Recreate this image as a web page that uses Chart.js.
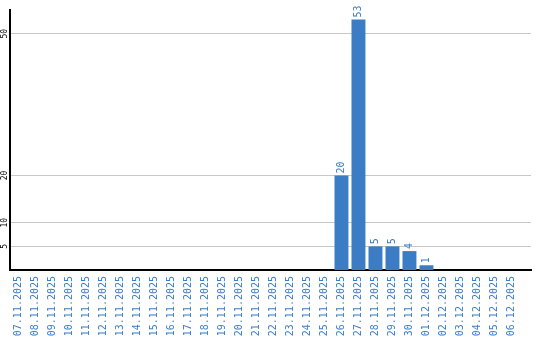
<!DOCTYPE html>
<html>
<head>
<meta charset="utf-8">
<script src="https://cdn.jsdelivr.net/npm/chart.js@4/dist/chart.umd.min.js"></script>
<style>
  body { margin: 0; background: #fff; }
  #wrap { width: 540px; height: 340px; }
</style>
</head>
<body>
<div id="wrap"><canvas id="myChart" width="540" height="340"></canvas></div>
<script>
'use strict';

// days shown on the x axis
const days = ['07.11.2025', '08.11.2025', '09.11.2025', '10.11.2025', '11.11.2025',
  '12.11.2025', '13.11.2025', '14.11.2025', '15.11.2025', '16.11.2025',
  '17.11.2025', '18.11.2025', '19.11.2025', '20.11.2025', '21.11.2025',
  '22.11.2025', '23.11.2025', '24.11.2025', '25.11.2025', '26.11.2025',
  '27.11.2025', '28.11.2025', '29.11.2025', '30.11.2025', '01.12.2025',
  '02.12.2025', '03.12.2025', '04.12.2025', '05.12.2025', '06.12.2025'];

// count per day
const counts = [0, 0, 0, 0, 0, 0, 0, 0, 0, 0,
  0, 0, 0, 0, 0, 0, 0, 0, 0, 20,
  53, 5, 5, 4, 1, 0, 0, 0, 0, 0];

// y axis tick labels
const yTicks = [5, 10, 20, 50];
const yMax = 55;

const blue = '#3b7dc5';

// draws the rotated value above each bar and the rotated y tick labels
const rotatedText = {
  id: 'rotatedText',
  afterDatasetsDraw(chart) {
    const ctx = chart.ctx;
    const meta = chart.getDatasetMeta(0);
    ctx.save();
    ctx.fillStyle = blue;
    ctx.font = '10px "DejaVu Sans Mono"';
    ctx.textAlign = 'left';
    ctx.textBaseline = 'middle';
    meta.data.forEach((bar, i) => {
      if (!counts[i]) return;
      ctx.save();
      ctx.translate(bar.x, bar.y - 2);
      ctx.rotate(-Math.PI / 2);
      ctx.fillText(String(counts[i]), 0, 0);
      ctx.restore();
    });
    // y labels, centred on their grid lines
    const y = chart.scales.y;
    ctx.fillStyle = '#000';
    ctx.font = '8px "DejaVu Sans Mono"';
    ctx.textAlign = 'center';
    yTicks.forEach(v => {
      ctx.save();
      ctx.translate(4.5, y.getPixelForValue(v));
      ctx.rotate(-Math.PI / 2);
      ctx.fillText(String(v), 0, 0);
      ctx.restore();
    });
    ctx.restore();
  }
};

const ctx = document.getElementById('myChart').getContext('2d');
const chart = new Chart(ctx, {
  type: 'bar',
  data: {
    labels: days,
    datasets: [{
      data: counts,
      backgroundColor: blue,
      borderWidth: 0,
      barPercentage: 0.82,
      categoryPercentage: 1
    }]
  },
  options: {
    responsive: false,
    animation: false,
    layout: { padding: { top: 10, right: 9, left: 0, bottom: 0 } },
    plugins: { legend: { display: false }, tooltip: { enabled: false } },
    scales: {
      x: {
        // leave a little empty room after the last day
        afterBuildTicks: s => { s._valueRange = s.ticks.length + 0.65; },
        afterFit: s => { s.height = 70; },
        grid: { display: false, drawTicks: false },
        border: { color: '#000', width: 2 },
        ticks: {
          autoSkip: false,
          minRotation: 90,
          maxRotation: 90,
          padding: 6,
          color: blue,
          font: { family: '"DejaVu Sans Mono"', size: 10 }
        }
      },
      y: {
        min: 0,
        max: yMax,
        afterBuildTicks: s => { s.ticks = yTicks.map(v => ({ value: v })); },
        afterFit: s => { s.width = 10; },
        grid: { color: '#c8c8c8', drawTicks: false },
        border: { color: '#000', width: 2 },
        ticks: { display: false }
      }
    }
  },
  plugins: [rotatedText]
});
</script>
</body>
</html>
